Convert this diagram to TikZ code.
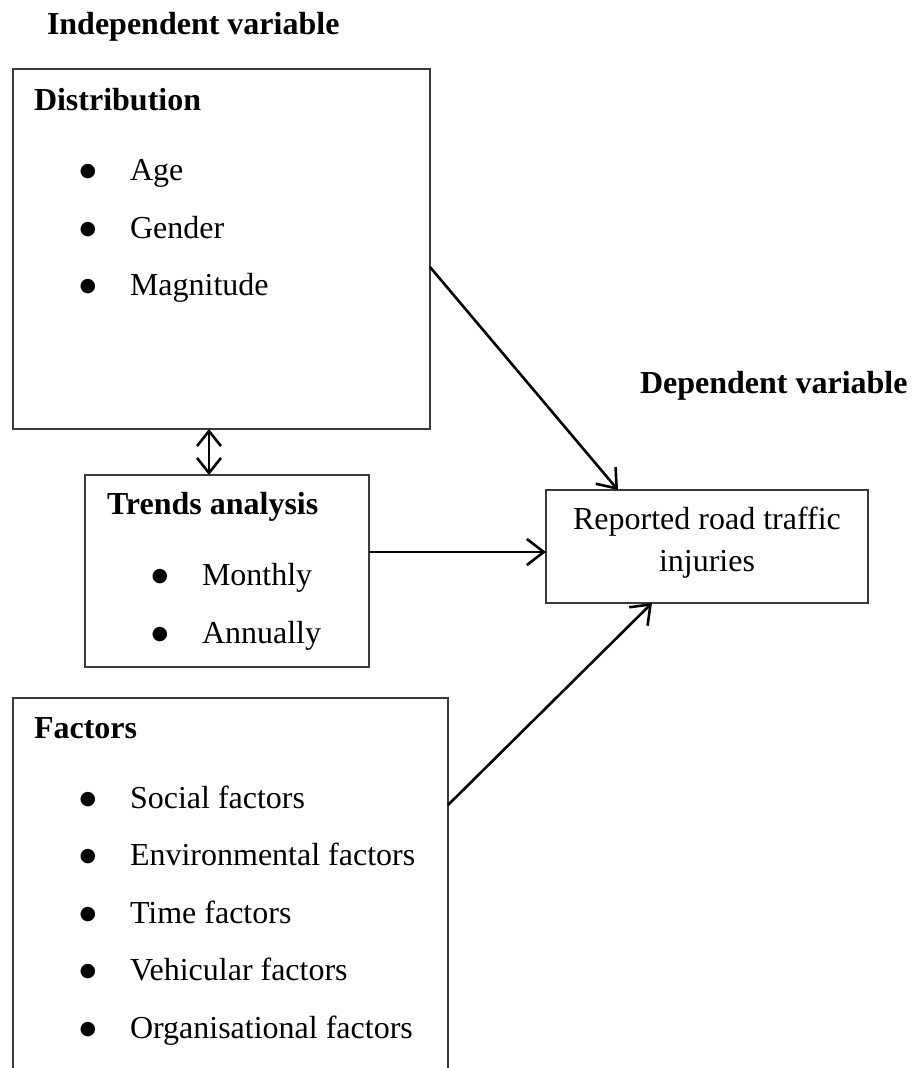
\documentclass[tikz,border=0pt]{standalone}
\usepackage{fontspec}
\setmainfont{Liberation Serif}
\newfontfamily\symfont{DejaVu Sans}
\usetikzlibrary{arrows.meta}
\definecolor{boxline}{HTML}{3A3A3A}
\begin{document}
\begin{tikzpicture}[x=1pt,y=-1pt,
  every node/.style={font=\fontsize{32}{42}\selectfont, inner sep=0pt, outer sep=0pt},
  box/.style={draw=boxline, line width=1.8pt, anchor=north west},
  txt/.style={anchor=base west},
  hd/.style={anchor=base west, font=\fontsize{32}{42}\selectfont\bfseries},
  bul/.style={anchor=center, font=\symfont\fontsize{19}{22}\selectfont},
  tip/.style={Straight Barb[length=17pt, width=26pt, line width=2.6pt]},
  arr/.style={line width=2.6pt, -{Straight Barb[length=17pt, width=26pt, line width=2.6pt]}},
  dbl/.style={line width=2.6pt, {Straight Barb[length=15pt, width=24pt, line width=2.6pt]}-{Straight Barb[length=15pt, width=24pt, line width=2.6pt]}}
]
\useasboundingbox (0,0) rectangle (919,1068);

% titles
\node[hd] (indep) at (47,34) {Independent variable};
\node[hd] (dep) at (640,393) {Dependent variable};

% Distribution box
\node[box, minimum width=417pt, minimum height=360pt] (dist) at (13,69) {};
\node[hd] (disth) at (34,110) {Distribution};
\node[bul] (b1) at (88,172) {●};
\node[txt] (t1) at (130,180) {Age};
\node[bul] (b2) at (88,230) {●};
\node[txt] (t2) at (130,238) {Gender};
\node[bul] (b3) at (88,287) {●};
\node[txt] (t3) at (130,295) {Magnitude};

% Trends box
\node[box, minimum width=284pt, minimum height=192pt] (trends) at (85,475) {};
\node[hd] (trh) at (107,514) {Trends analysis};
\node[bul] (b4) at (160,577) {●};
\node[txt] (t4) at (202,585) {Monthly};
\node[bul] (b5) at (160,635) {●};
\node[txt] (t5) at (202,643) {Annually};

% Reported box
\node[box, minimum width=322pt, minimum height=113pt] (rep) at (546,490) {};
\node[anchor=base, align=center] (rept) at (707,571) {Reported road traffic\\injuries};

% Factors box (open at bottom)
\node[anchor=north west, minimum width=435pt, minimum height=372pt] (fac) at (13,698) {};
\draw[draw=boxline, line width=1.8pt] (fac.south west) -- (fac.north west) -- (fac.north east) -- (fac.south east);
\node[hd] (fach) at (34,738) {Factors};
\node[bul] (b6) at (88,800) {●};
\node[txt] (t6) at (130,808) {Social factors};
\node[bul] (b7) at (88,857) {●};
\node[txt] (t7) at (130,865) {Environmental factors};
\node[bul] (b8) at (88,915) {●};
\node[txt] (t8) at (130,923) {Time factors};
\node[bul] (b9) at (88,972) {●};
\node[txt] (t9) at (130,980) {Vehicular factors};
\node[bul] (b10) at (88,1030) {●};
\node[txt] (t10) at (130,1038) {Organisational factors};

% connectors
\draw[dbl] ([xshift=196pt]dist.south west) -- ([xshift=196pt]dist.south west |- trends.north);
\draw[arr] ([yshift=-198pt]dist.north east) -- ([xshift=72pt]rep.north west);
\draw[arr] ([yshift=-77pt]trends.north east) -- ([yshift=-77pt]trends.north east -| rep.west);
\draw[arr] ([yshift=-107pt]fac.north east) -- ([xshift=106pt]rep.south west);
\end{tikzpicture}
\end{document}
